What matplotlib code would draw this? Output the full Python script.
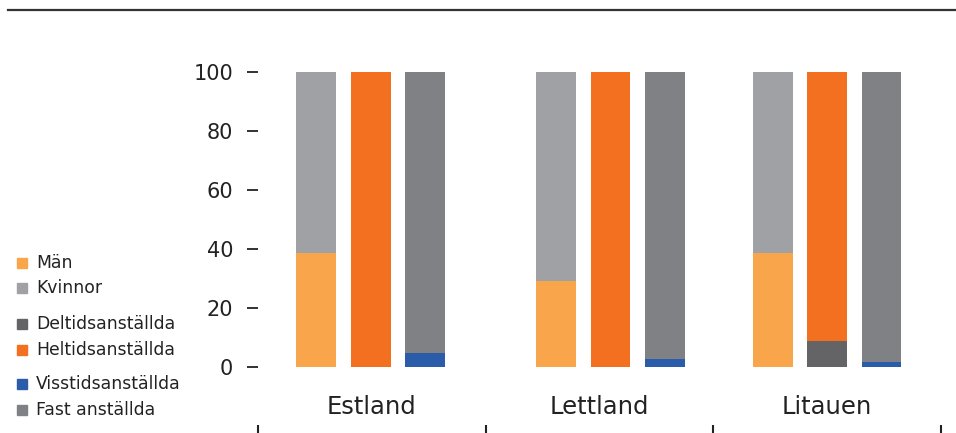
import numpy as np
import matplotlib
matplotlib.use("Agg")
import matplotlib.pyplot as plt
from matplotlib.patches import Rectangle
from matplotlib.lines import Line2D

plt.rcParams['font.family'] = ['DejaVu Sans']

# andelar i procent per land
countries = ['Estland', 'Lettland', 'Litauen']
man = [38.5, 29.0, 38.5]
kvinnor = [61.5, 71.0, 61.5]
deltid = [0.0, 0.0, 8.8]
heltid = [100.0, 100.0, 91.2]
visstid = [4.7, 2.7, 1.7]
fast = [95.3, 97.3, 98.3]
yticks = [0, 20, 40, 60, 80, 100]

legend_labels = ['Män', 'Kvinnor', 'Deltidsanställda', 'Heltidsanställda',
                 'Visstidsanställda', 'Fast anställda']
c_man, c_kv = '#F9A54B', '#A0A1A5'
c_del, c_hel = '#646466', '#F37021'
c_vis, c_fast = '#2A5CAA', '#808185'
legend_colors = [c_man, c_kv, c_del, c_hel, c_vis, c_fast]

W, H = 956, 433
fig = plt.figure(figsize=(W / 100, H / 100), dpi=100)
ax = fig.add_axes([258 / W, 0, 683 / W, (H - 57) / H])

# staplarnas gruppmitt (mittengruppen ligger lite till höger om etiketten)
x = np.arange(len(countries)) + np.array([-0.005, 0.048, 0.0])
off = 0.239
bw = 0.175
ax.bar(x - off, man, bw, color=c_man)
ax.bar(x - off, kvinnor, bw, bottom=man, color=c_kv)
ax.bar(x, deltid, bw, color=c_del)
ax.bar(x, heltid, bw, bottom=deltid, color=c_hel)
ax.bar(x + off, visstid, bw, color=c_vis)
ax.bar(x + off, fast, bw, bottom=visstid, color=c_fast)

ax.set_xlim(-0.5, 2.5)
ax.set_ylim(-22.4, 105)
for s in ax.spines.values():
    s.set_visible(False)

ax.set_yticks(yticks)
ax.set_yticklabels([str(v) for v in yticks], fontsize=15, color='#222222')
ax.tick_params(axis='y', length=8, width=1.3, pad=10, color='#222222')
ax.set_xticks(np.arange(-0.5, len(countries), 1.0))
ax.set_xticklabels([])
ax.tick_params(axis='x', direction='in', length=6, width=1.5, color='#222222')

for i, c in enumerate(countries):
    ax.text(i, -13.6, c, ha='center', va='center', fontsize=17.5, color='#222222')

# förklaring till vänster
leg_y = [263, 288, 324, 350, 384, 410]
for lab, col, yy in zip(legend_labels, legend_colors, leg_y):
    fig.patches.append(Rectangle((17 / W, (H - yy - 5) / H), 10 / W, 10 / H,
                                 transform=fig.transFigure, color=col))
    fig.text(36 / W, (H - yy) / H, lab, fontsize=12.4, va='center', color='#222222')

fig.lines.append(Line2D([8 / W, 1], [(H - 10) / H] * 2, transform=fig.transFigure,
                        color='#333333', linewidth=1.6))

fig.savefig('out.png', dpi=100)
